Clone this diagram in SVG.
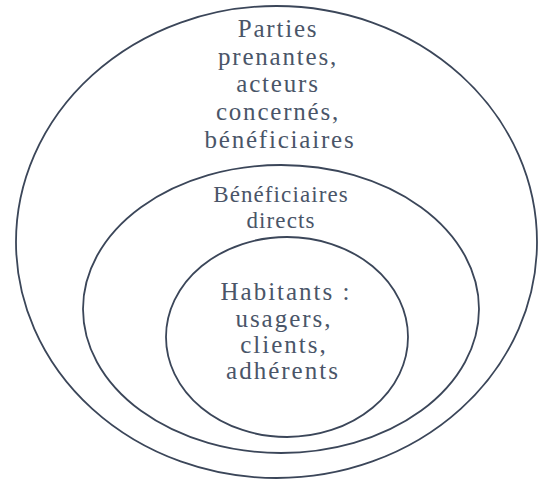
<svg xmlns="http://www.w3.org/2000/svg" width="542" height="481" viewBox="0 0 542 481">
<style>
.ring{fill:none;stroke:#3b4659;stroke-width:1.8}
.lbl{fill:#4a5568;text-anchor:middle;font-family:"Liberation Serif","Times New Roman",serif}
.big{font-size:25px;letter-spacing:1.8px}
.mid{font-size:23px;letter-spacing:1.1px}
.inn{font-size:25px;letter-spacing:2px}
</style>
<rect width="542" height="481" fill="#ffffff"/>
<g id="outer">
<ellipse class="ring" cx="276.5" cy="242" rx="260.5" ry="236"/>
<text class="lbl big" x="278" y="37">Parties</text>
<text class="lbl big" x="278" y="64.5">prenantes,</text>
<text class="lbl big" x="278" y="92">acteurs</text>
<text class="lbl big" x="278" y="120">concernés,</text>
<text class="lbl big" x="280" y="147.5">bénéficiaires</text>
</g>
<g id="middle">
<ellipse class="ring" cx="281" cy="309" rx="198" ry="144"/>
<text class="lbl mid" x="281" y="202">Bénéficiaires</text>
<text class="lbl mid" x="281" y="228">directs</text>
</g>
<g id="inner">
<ellipse class="ring" cx="287" cy="337" rx="121" ry="100"/>
<text class="lbl inn" x="286" y="300">Habitants :</text>
<text class="lbl inn" x="284" y="327">usagers,</text>
<text class="lbl inn" x="284" y="353">clients,</text>
<text class="lbl inn" x="283" y="379">adhérents</text>
</g>
<g id="connectors"/>
</svg>
